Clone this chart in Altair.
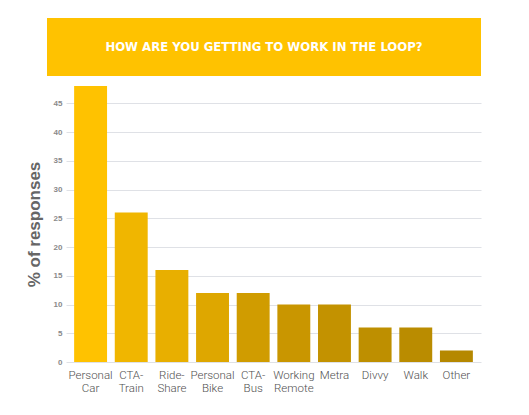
import altair as alt
import pandas as pd

categories = ["Personal Car", "CTA-Train", "Ride-Share", "Personal Bike", "CTA-Bus",
              "Working Remote", "Metra", "Divvy", "Walk", "Other"]
values = [48, 26, 16, 12, 12, 10, 10, 6, 6, 2]
colors = ["#FFC200", "#F0B600", "#E8AF00", "#DEA700", "#D09C00",
          "#C99600", "#C39200", "#BE8F00", "#BA8C00", "#B58800"]
y_ticks = [0, 5, 10, 15, 20, 25, 30, 35, 40, 45]
title_text = "HOW ARE YOU GETTING TO WORK IN THE LOOP?"

df = pd.DataFrame({"mode": categories, "pct": values})

W, H = 415, 276

bars = alt.Chart(df).mark_bar().encode(
    x=alt.X("mode:N", sort=categories,
            scale=alt.Scale(paddingInner=0.19, paddingOuter=0.2),
            axis=alt.Axis(title=None, labelAngle=0, ticks=False, domain=False,
                          labelFont="Roboto", labelFontSize=11.5, labelFontWeight=300,
                          labelColor="#505050", labelPadding=7, labelLineHeight=13,
                          labelExpr="split(replace(datum.label, '-', '- '), ' ')")),
    y=alt.Y("pct:Q", scale=alt.Scale(domain=[0, 48], nice=False),
            axis=alt.Axis(title="% of responses", values=y_ticks, ticks=False,
                          domain=False, grid=True, gridColor="#dfe1e6",
                          labelFont="Liberation Sans", labelFontSize=8,
                          labelFontWeight="bold", labelColor="#8a8a8a",
                          labelPadding=4, titleFont="Liberation Sans",
                          titleFontSize=17, titleFontWeight="bold",
                          titleColor="#666666", titlePadding=10)),
    color=alt.Color("mode:N", sort=categories,
                    scale=alt.Scale(domain=categories, range=colors), legend=None),
)

banner_df = pd.DataFrame({"t": [title_text]})
banner = alt.Chart(banner_df).mark_rect(color="#FFC200").encode(
    x=alt.value(-19), x2=alt.value(415), y=alt.value(-68), y2=alt.value(-10)
)
banner_text = alt.Chart(banner_df).mark_text(
    color="white", font="DejaVu Sans Condensed", fontSize=13, fontWeight="bold",
    align="center", baseline="middle"
).encode(text="t:N", x=alt.value(198), y=alt.value(-39))

chart = alt.layer(banner, banner_text, bars).properties(
    width=W, height=H,
    background="white",
    autosize=alt.AutoSizeParams(type="none"),
    padding={"left": 58, "top": 78, "right": 30, "bottom": 50},
).configure_view(strokeWidth=0)

chart.save("out.html", embed_options={"renderer": "svg", "actions": False})
